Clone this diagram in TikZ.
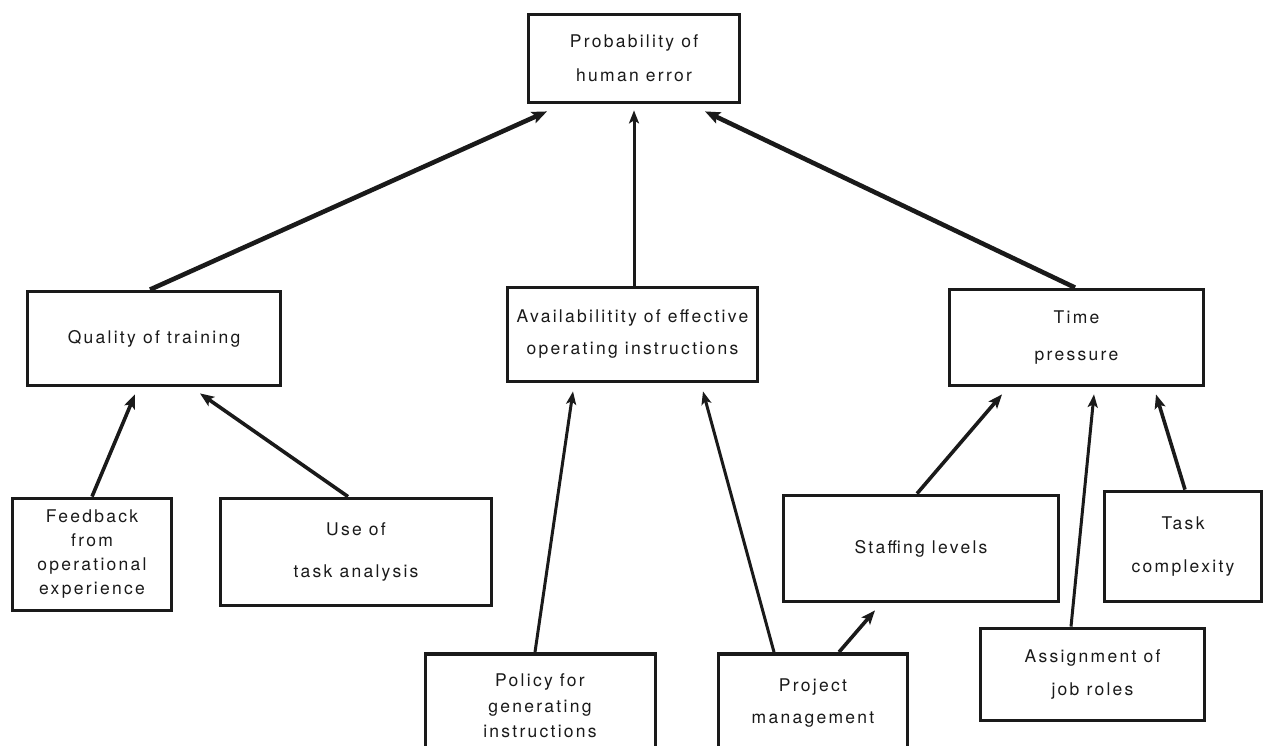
\documentclass[tikz,border=0pt]{standalone}
\usepackage{fontspec}
\setmainfont{TeX Gyre Heros}[LetterSpace=13]
\usetikzlibrary{arrows.meta}
\definecolor{ink}{HTML}{1A1A1A}
\tikzset{
  box/.style={draw=ink, line width=3.8pt, inner sep=0pt, text=ink, align=center,
    font=\fontsize{17.5}{24}\selectfont},
  lbl/.style={inner sep=0pt, text=ink, align=center, font=\fontsize{17.5}{24}\selectfont},
  thickarr/.style={draw=ink, line width=4.6pt, -{Stealth[length=15pt,width=12pt,inset=3pt]}},
  midarr/.style={draw=ink, line width=3.6pt, -{Stealth[length=14pt,width=11pt,inset=3pt]}},
  thinarr/.style={draw=ink, line width=3pt, -{Stealth[length=13pt,width=10pt,inset=3pt]}}
}
\begin{document}
\begin{tikzpicture}[x=1pt,y=-1pt]
\useasboundingbox (0,0) rectangle (1264,746);
\fill[white] (0,0) rectangle (1264,746);
\clip (0,0) rectangle (1264,746);

\node[box, minimum width=211, minimum height=88] (top) at (634,58.5) {Probability of\\[10pt]human error};
\node[box, minimum width=253, minimum height=94] (qual) at (154,338.5) {Quality of training};
\node[box, minimum width=250, minimum height=94] (avail) at (632.5,334.5) {Availabilitity of effective\\[8pt]operating instructions};
\node[box, minimum width=254, minimum height=96] (time) at (1076.5,337.5) {Time\\[13pt]pressure};
\node[box, minimum width=159, minimum height=112] (feed) at (92,554.5) {Feedback\\from\\operational\\experience};
\node[box, minimum width=271, minimum height=107] (use) at (356,552) {Use of\\[18pt]task analysis};
\node[box, minimum width=275, minimum height=106] (staff) at (921,548.5) {Staffing levels};
\node[box, minimum width=157, minimum height=110] (task) at (1183,546.5) {Task\\[19pt]complexity};
\node[box, minimum width=224, minimum height=92] (assign) at (1092.5,674.5) {Assignment of\\[9pt]job roles};
\node[box, minimum width=230, minimum height=146] (policy) at (540.5,727) {};
\node[box, minimum width=189, minimum height=146] (project) at (813,727) {};
\node[lbl] (policytext) at (540,706) {Policy for\\[2pt]generating\\[1pt]instructions};
\node[lbl] (projecttext) at (813,703) {Project\\[8pt]management};

\draw[thickarr] ([xshift=-4pt]qual.north) -- ([xshift=-87pt,yshift=-7pt]top.south);
\draw[thinarr] ([xshift=1.5pt]avail.north) -- ([xshift=0pt,yshift=-6pt]top.south);
\draw[thickarr] ([xshift=-1.5pt]time.north) -- ([xshift=71pt,yshift=-7pt]top.south);

\draw[midarr] (feed.north) -- ([xshift=-19pt,yshift=-7pt]qual.south);
\draw[midarr] ([xshift=-8pt]use.north) -- ([xshift=46pt,yshift=-6pt]qual.south);

\draw[thinarr] ([xshift=-5.5pt]policy.north) -- ([xshift=-59.5pt,yshift=-8pt]avail.south);
\draw[thinarr] ([xshift=-39pt]project.north) -- ([xshift=70.5pt,yshift=-8pt]avail.south);

\draw[midarr] ([xshift=-4pt]staff.north) -- ([xshift=-74.5pt,yshift=-7pt]time.south);
\draw[thinarr] ([xshift=-21.5pt]assign.north) -- ([xshift=17.5pt,yshift=-7pt]time.south);
\draw[midarr] ([xshift=2pt]task.north) -- ([xshift=79.5pt,yshift=-7pt]time.south);

\draw[midarr] ([xshift=26pt]project.north) -- ([xshift=-46pt,yshift=-7pt]staff.south);
\end{tikzpicture}
\end{document}
